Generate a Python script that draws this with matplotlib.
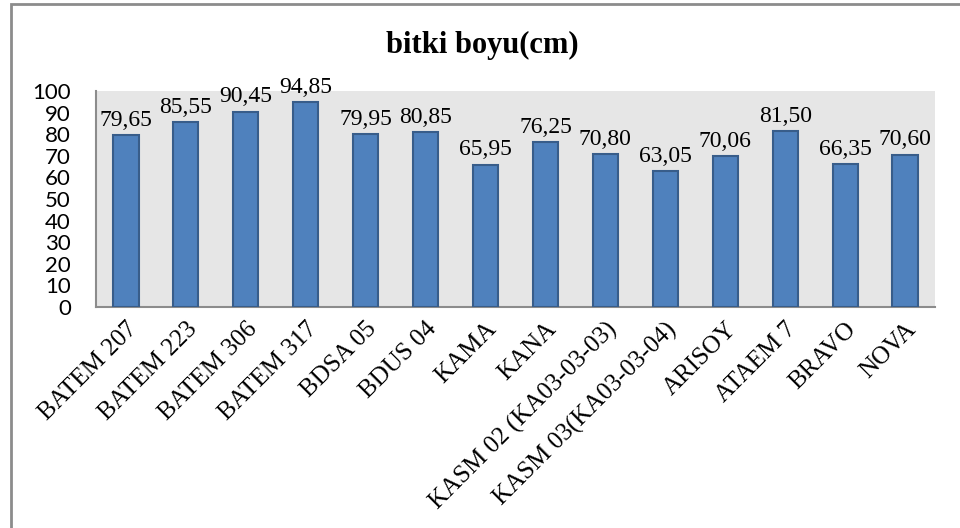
import matplotlib
matplotlib.use("Agg")
import matplotlib.pyplot as plt
from matplotlib.patches import Rectangle

categories = ["BATEM 207", "BATEM 223", "BATEM 306", "BATEM 317", "BDSA 05", "BDUS 04",
              "KAMA", "KANA", "KASM 02 (KA03-03-03)", "KASM 03(KA03-03-04)", "ARISOY",
              "ATAEM 7", "BRAVO", "NOVA"]
values = [79.65, 85.55, 90.45, 94.85, 79.95, 80.85, 65.95, 76.25, 70.80, 63.05, 70.06,
          81.50, 66.35, 70.60]
labels = ["79,65", "85,55", "90,45", "94,85", "79,95", "80,85", "65,95", "76,25", "70,80",
          "63,05", "70,06", "81,50", "66,35", "70,60"]
yticks = list(range(0, 101, 10))

serif = "Liberation Serif"
sans = "Lato"

fig = plt.figure(figsize=(9.6, 5.28), dpi=100)
ax = fig.add_axes([96/960, 1-307/528, (935-96)/960, (307-91)/528])
ax.set_facecolor("#E6E6E6")

x = list(range(len(categories)))
bars = ax.bar(x, values, width=0.42, color="#4F81BD", edgecolor="#385D8A", linewidth=1.5, zorder=3)
for xi, v, lab in zip(x, values, labels):
    ax.annotate(lab, (xi, v), xytext=(0, 3), textcoords="offset points", ha="center", va="bottom",
                fontsize=17, family=serif, color="black", annotation_clip=False)

ax.set_xlim(-0.5, len(categories) - 0.5)
ax.set_ylim(0, 100)
ax.set_yticks(yticks)
ax.set_yticklabels([str(t) for t in yticks], family=sans, fontsize=16)
ax.set_xticks(x)
ax.set_xticklabels(categories, rotation=45, ha="right", va="top", rotation_mode="anchor",
                   family=serif, fontsize=18)
ax.tick_params(axis="y", length=0, pad=18)
ax.tick_params(axis="x", length=0, pad=8)
for s in ["top", "right"]:
    ax.spines[s].set_visible(False)
for s in ["left", "bottom"]:
    ax.spines[s].set_color("#8C8C8C")
    ax.spines[s].set_linewidth(1.5)

fig.text(482/960, 1-45/528, "bitki boyu(cm)", ha="center", va="center", fontsize=22,
         fontweight="bold", family=serif)

border = Rectangle((11/960, -0.2), 1.2, 1.2 - 4/528, transform=fig.transFigure,
                   fill=False, edgecolor="#8C8C8C", linewidth=2, clip_on=False)
fig.patches.append(border)

fig.savefig("out.png", dpi=100)
